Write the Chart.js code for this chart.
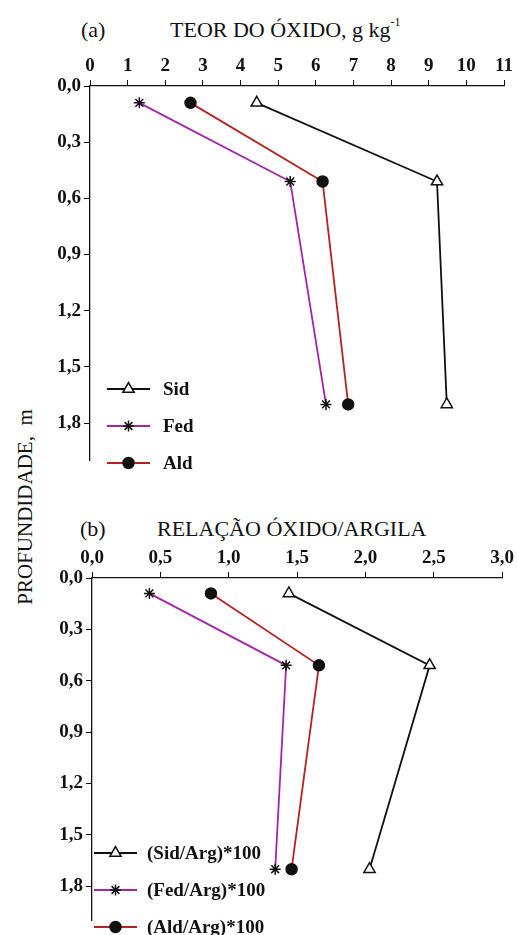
<!DOCTYPE html>
<html>
<head>
<meta charset="utf-8">
<script src="https://cdn.jsdelivr.net/npm/chart.js@4/dist/chart.umd.min.js"></script>
<style>
  body { margin: 0; background: #fff; }
  #wrap { position: relative; width: 517px; height: 935px; overflow: hidden; font-family: "Liberation Serif", serif; color: #111; }
  canvas { position: absolute; left: 0; }
  .t { position: absolute; font-size: 22px; white-space: nowrap; line-height: 1; }
  .t sup { font-size: 12px; position: relative; top: -3px; }
  #ylab { position: absolute; left: 25px; top: 507px; transform: translate(-50%, -50%) rotate(-90deg); font-size: 21px; white-space: nowrap; }
</style>
</head>
<body>
<div id="wrap">
  <div class="t" style="left:81px; top:19px;">(a)</div>
  <div class="t" style="left:170px; top:19px;">TEOR DO ÓXIDO, g kg<sup>-1</sup></div>
  <div class="t" style="left:80px; top:518px;">(b)</div>
  <div class="t" style="left:157px; top:518px;">RELAÇÃO ÓXIDO/ARGILA</div>
  <div id="ylab">PROFUNDIDADE,&nbsp; m</div>
  <canvas id="chartA" width="517" height="475" style="top:0"></canvas>
  <canvas id="chartB" width="517" height="455" style="top:480px"></canvas>
</div>
<script>
// depth of the samples (m)
const depth = [0.09, 0.51, 1.70]

// (a) teor do oxido, g/kg
const sidTeor = [4.43, 9.22, 9.48]
const fedTeor = [1.31, 5.32, 6.27]
const aldTeor = [2.67, 6.18, 6.86]

// (b) relacao oxido/argila
const sidRel = [1.44, 2.47, 2.03]
const fedRel = [0.42, 1.42, 1.34]
const aldRel = [0.87, 1.66, 1.46]

const labelsA = ["Sid", "Fed", "Ald"]
const labelsB = ["(Sid/Arg)*100", "(Fed/Arg)*100", "(Ald/Arg)*100"]

const teorTicks = [0, 1, 2, 3, 4, 5, 6, 7, 8, 9, 10, 11]
const relTicks = [0, 0.5, 1, 1.5, 2, 2.5, 3]
const depthTicks = [0, 0.3, 0.6, 0.9, 1.2, 1.5, 1.8]

const styles = [
    { color: "#111111", pointStyle: "triangle", radius: 6.5, fill: "#ffffff" },
    { color: "#a424a8", pointStyle: "star", radius: 5.5, fill: "#111111", border: "#111111" },
    { color: "#b5221f", pointStyle: "circle", radius: 5.5, fill: "#111111", border: "#111111" }
]

const tickFont = { family: "Liberation Serif", size: 19, weight: "bold" }
const comma = (v, d) => v.toFixed(d).replace(".", ",")

function makeDatasets(labels, series) {
    return series.map((vals, i) => {
        const s = styles[i]
        return {
            label: labels[i],
            data: vals.map((v, j) => ({ x: v, y: depth[j] })),
            showLine: true,
            tension: 0,
            borderColor: s.color,
            borderWidth: 1.8,
            pointStyle: s.pointStyle,
            pointRadius: s.radius,
            pointHoverRadius: s.radius,
            pointBackgroundColor: s.fill,
            pointBorderColor: s.border || s.color,
            pointBorderWidth: 1.5
        }
    })
}

// legend drawn inside the plot area, bottom left
const innerLegend = {
    id: "innerLegend",
    afterDatasetsDraw(chart, args, opts) {
        const ctx = chart.ctx
        ctx.save()
        chart.data.datasets.forEach((ds, i) => {
            const y = opts.y + i * opts.gap
            ctx.strokeStyle = ds.borderColor
            ctx.lineWidth = 1.8
            ctx.beginPath()
            ctx.moveTo(opts.x, y)
            ctx.lineTo(opts.x + opts.lineLen, y)
            ctx.stroke()
            ctx.fillStyle = ds.pointBackgroundColor
            ctx.strokeStyle = ds.pointBorderColor
            ctx.lineWidth = ds.pointBorderWidth
            Chart.helpers.drawPoint(ctx, { pointStyle: ds.pointStyle, radius: ds.pointRadius, borderWidth: ds.pointBorderWidth, rotation: 0 }, opts.x + opts.lineLen / 2, y)
            ctx.fillStyle = "#111"
            ctx.font = "bold 19px 'Liberation Serif'"
            ctx.textBaseline = "middle"
            ctx.fillText(ds.label, opts.textX, y + 1)
        })
        ctx.restore()
    }
}

function makeChart(id, datasets, xMax, xTicks, xDec, axisH, axisW, pad, legend) {
    const ctx = document.getElementById(id).getContext("2d")
    return new Chart(ctx, {
        type: "scatter",
        data: { datasets: datasets },
        plugins: [innerLegend],
        options: {
            responsive: false,
            animation: false,
            devicePixelRatio: 1,
            layout: { padding: pad },
            plugins: {
                legend: { display: false },
                tooltip: { enabled: false },
                innerLegend: legend
            },
            scales: {
                x: {
                    type: "linear",
                    position: "top",
                    min: 0,
                    max: xMax,
                    afterBuildTicks: s => { s.ticks = xTicks.map(v => ({ value: v })) },
                    afterFit: s => { s.height = axisH },
                    ticks: {
                        color: "#111",
                        font: tickFont,
                        padding: 3,
                        maxRotation: 0,
                        autoSkip: false,
                        callback: v => xDec ? comma(v, xDec) : String(v)
                    },
                    grid: { drawOnChartArea: false, drawTicks: true, tickLength: 6, color: "#111", lineWidth: 1 },
                    border: { display: true, color: "#111", width: 1.3 }
                },
                y: {
                    type: "linear",
                    reverse: true,
                    min: 0,
                    max: 2.0,
                    afterBuildTicks: s => { s.ticks = depthTicks.map(v => ({ value: v })) },
                    afterFit: s => { s.width = axisW },
                    ticks: {
                        color: "#111",
                        font: tickFont,
                        padding: 3,
                        autoSkip: false,
                        callback: v => comma(v, 1)
                    },
                    grid: { drawOnChartArea: false, drawTicks: true, tickLength: 6, color: "#111", lineWidth: 1 },
                    border: { display: true, color: "#111", width: 1.3 }
                }
            }
        }
    })
}

makeChart("chartA", makeDatasets(labelsA, [sidTeor, fedTeor, aldTeor]), 11, teorTicks, 0, 86, 90,
    { top: 0, left: 0, right: 13, bottom: 5 },
    { x: 107, y: 389, gap: 37, lineLen: 43, textX: 163 })

makeChart("chartB", makeDatasets(labelsB, [sidRel, fedRel, aldRel]), 3, relTicks, 1, 98, 92,
    { top: 0, left: 0, right: 14, bottom: 2 },
    { x: 94, y: 373, gap: 37, lineLen: 43, textX: 147 })
</script>
</body>
</html>
